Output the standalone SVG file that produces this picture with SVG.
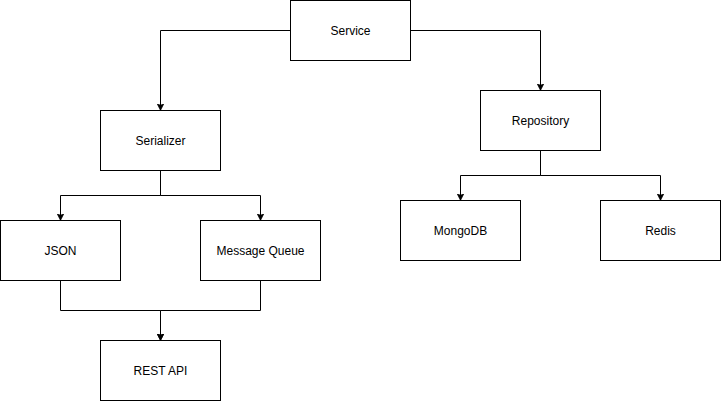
<svg xmlns="http://www.w3.org/2000/svg" width="721" height="401" viewBox="0 0 721 401">
<style>
.box{fill:#fff;stroke:#000;stroke-width:1}
.lbl{font-family:"Liberation Sans",Arial,sans-serif;font-size:12px;fill:#000;text-anchor:middle;dominant-baseline:central}
.edge{fill:none;stroke:#000;stroke-width:1}
</style>
<defs>
<marker id="arr" markerWidth="8" markerHeight="8" refX="7" refY="4" orient="auto" markerUnits="userSpaceOnUse">
<path d="M0,0.5 L7,4 L0,7.5 L1.8,4 Z" fill="#000" stroke="#000" stroke-width="0.6"/>
</marker>
</defs>
<rect width="721" height="401" fill="#fff"/>
<g id="connectors">
<path class="edge" d="M290.5,30.5 H160.5 V110.5" marker-end="url(#arr)"/>
<path class="edge" d="M410.5,30.5 H540.5 V90.5" marker-end="url(#arr)"/>
<path class="edge" d="M160.5,170.5 V195.5 H60.5 V220.5" marker-end="url(#arr)"/>
<path class="edge" d="M160.5,170.5 V195.5 H260.5 V220.5" marker-end="url(#arr)"/>
<path class="edge" d="M540.5,150.5 V175.5 H460.5 V200.5" marker-end="url(#arr)"/>
<path class="edge" d="M540.5,150.5 V175.5 H660.5 V200.5" marker-end="url(#arr)"/>
<path class="edge" d="M60.5,280.5 V310.5 H160.5 V340.5" marker-end="url(#arr)"/>
<path class="edge" d="M260.5,280.5 V310.5 H160.5 V340.5" marker-end="url(#arr)"/>
</g>
<g id="service"><rect class="box" x="290.5" y="0.5" width="120" height="60"/><text class="lbl" x="350.5" y="30.5">Service</text></g>
<g id="serializer"><rect class="box" x="100.5" y="110.5" width="120" height="60"/><text class="lbl" x="160.5" y="140.5">Serializer</text></g>
<g id="repository"><rect class="box" x="480.5" y="90.5" width="120" height="60"/><text class="lbl" x="540.5" y="120.5">Repository</text></g>
<g id="json"><rect class="box" x="0.5" y="220.5" width="120" height="60"/><text class="lbl" x="60.5" y="250.5">JSON</text></g>
<g id="message-queue"><rect class="box" x="200.5" y="220.5" width="120" height="60"/><text class="lbl" x="260.5" y="250.5">Message Queue</text></g>
<g id="mongodb"><rect class="box" x="400.5" y="200.5" width="120" height="60"/><text class="lbl" x="460.5" y="230.5">MongoDB</text></g>
<g id="redis"><rect class="box" x="600.5" y="200.5" width="120" height="60"/><text class="lbl" x="660.5" y="230.5">Redis</text></g>
<g id="rest-api"><rect class="box" x="100.5" y="340.5" width="120" height="60"/><text class="lbl" x="160.5" y="370.5">REST API</text></g>
</svg>
